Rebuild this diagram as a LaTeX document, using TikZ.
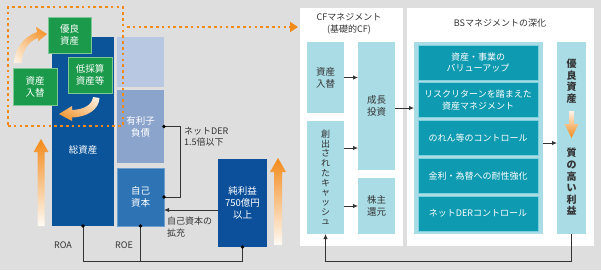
\documentclass[tikz,border=0pt]{standalone}
\usepackage{fontspec}
\setmainfont{Noto Sans CJK JP}
\usetikzlibrary{arrows.meta,calc,shadings}
\definecolor{bgg}{HTML}{DDDEDD}
\definecolor{dkb}{HTML}{0B5499}
\definecolor{ltb}{HTML}{B9C8E2}
\definecolor{mdb}{HTML}{8BA4CC}
\definecolor{eqb}{HTML}{2E74B5}
\definecolor{eqbd}{HTML}{6C9FD0}
\definecolor{nib}{HTML}{0C4F9A}
\definecolor{grn}{HTML}{1B9A4B}
\definecolor{grnb}{HTML}{7CC996}
\definecolor{cfb}{HTML}{AADCE5}
\definecolor{tl}{HTML}{0E9AB0}
\definecolor{tlb}{HTML}{7FD0DD}
\definecolor{org}{HTML}{F28A1A}
\definecolor{ln}{HTML}{333333}
\begin{document}
\begin{tikzpicture}[x=1pt,y=-1pt,
  rbox/.style 2 args={minimum width=#1,minimum height=#2,inner sep=0pt,outer sep=0pt,anchor=north west,align=center},
  wtxt/.style={text=white,font=\fontsize{9.5}{12}\selectfont},
  dtxt/.style={text=ln,font=\fontsize{9.5}{12}\selectfont},
  btxt/.style={text=white,font=\fontsize{9}{11.5}\selectfont},
  lbl/.style={text=ln,font=\fontsize{9}{11.5}\selectfont,inner sep=0pt,align=left},
  ttl/.style={text=ln,font=\fontsize{9}{11.5}\selectfont,inner sep=0pt,align=center},
  vtc/.style={text=ln,font=\fontsize{9}{9.7}\selectfont,inner sep=0pt,align=center},
  vtr/.style={text=ln,font=\fontsize{10}{11.6}\bfseries,inner sep=0pt,align=center},
  con/.style={draw=ln,line width=0.9pt,-{Latex[length=5pt,width=4.5pt]}},
  ln2/.style={draw=ln,line width=0.9pt},
  orgdot/.style={draw=org,line width=2.6pt,dash pattern=on 2.6pt off 3.2pt},
  dotc/.style={fill=black},
]
\fill[bgg] (0,0) rectangle (601,270);
% ---------- right panels ----------
\node[rbox={103}{238},fill=white] (cfp) at (300,8) {};
\node[rbox={187}{238},fill=white] (bsp) at (407,8) {};
\node[ttl] (cft) at (349,24) {CFマネジメント\\(基礎的CF)};
\node[ttl] (bst) at (500,23) {BSマネジメントの深化};
% CF boxes
\node[rbox={37}{71},fill=cfb,dtxt] (ca) at (307,42) {資産\\入替};
\node[rbox={37}{113},fill=cfb,vtc] (cc) at (307,121) {創\\出\\さ\\れ\\た\\キ\\ャ\\ッ\\シ\\ュ};
\node[rbox={37}{128},fill=cfb,dtxt] (gi) at (358,42) {成長\\投資};
\node[rbox={37}{56},fill=cfb,dtxt] (sr) at (358,178) {株主\\還元};
% BS boxes
\node[rbox={129}{192},fill=cfb] (bsc) at (414,42) {};
\node[rbox={120}{35},fill=tl,draw=tlb,line width=0.8pt,btxt] (b1) at (418,45) {資産・事業の\\バリューアップ};
\node[rbox={120}{35},fill=tl,draw=tlb,line width=0.8pt,btxt] (b2) at (418,82.75) {リスクリターンを踏まえた\\資産マネジメント};
\node[rbox={120}{35},fill=tl,draw=tlb,line width=0.8pt,btxt] (b3) at (418,120.5) {のれん等のコントロール};
\node[rbox={120}{35},fill=tl,draw=tlb,line width=0.8pt,btxt] (b4) at (418,158.25) {金利・為替への耐性強化};
\node[rbox={120}{35},fill=tl,draw=tlb,line width=0.8pt,btxt] (b5) at (418,196) {ネットDERコントロール};
% right column
\node[rbox={29}{192},fill=cfb] (rc) at (557,42) {};
\node[vtr] (rq1) at (571.5,81) {優\\良\\資\\産};
\shade[top color=org!10,bottom color=org] (569,111) -- (574,111) -- (574,124) -- (578.5,124) -- (571.5,138) -- (564.5,124) -- (569,124) -- cycle;
\node[vtr] (rq2) at (571.5,182) {質\\の\\高\\い\\利\\益};
% CF connectors
\draw[con] (ca.east) -- (ca.east -| gi.west);
\coordinate (y148) at (0,148);
\draw[con] (cc.east |- y148) -- (gi.west |- y148);
\draw[con] (cc.east |- sr.west) -- (sr.west);
\coordinate (y108) at (0,108);
\draw[con] (gi.east |- y108) -- (bsc.west |- y108);
\coordinate (y143) at (0,143);
\draw[con] (bsc.east |- y143) -- (rc.west |- y143);
\coordinate (yb) at (0,261);
\draw[con] (rc.south) -- (rc.south |- yb) -- (cc.south |- yb) -- (cc.south);
% ---------- left part ----------
\node[rbox={62}{189},fill=dkb] (tot) at (52,37) {};
\node[wtxt] (tott) at (83,150) {総資産};
\node[rbox={47}{50},fill=ltb] (emp) at (117,37) {};
\node[rbox={47}{73},fill=mdb,wtxt] (debt) at (117,90) {有利子\\負債};
\node[rbox={47}{58},fill=eqb,draw=eqbd,line width=0.8pt,wtxt] (eq) at (117,168) {自己\\資本};
\node[rbox={49}{88},fill=nib,wtxt] (ni) at (218,159) {純利益\\750億円\\以上};
% green boxes
\node[rbox={43}{36},fill=grn,draw=grnb,line width=0.8pt,wtxt] (g1) at (48,17) {優良\\資産};
\node[rbox={44}{36},fill=grn,draw=grnb,line width=0.8pt,wtxt] (g2) at (68,57) {低採算\\資産等};
\node[rbox={44}{37},fill=grn,draw=grnb,line width=0.8pt,wtxt] (g3) at (13,68) {資産\\入替};
% curved arrows
\shade[upper right=org,lower left=org!8,upper left=org!55,lower right=org!55]
  (14,63) .. controls (15,47) and (24,37) .. (37,32) -- (36,27) -- (47,34) -- (38,41.5) -- (38,38)
  .. controls (29,41) and (23,49) .. (21.5,63) -- cycle;
\shade[upper right=org!8,lower left=org,upper left=org!55,lower right=org!55]
  (93,97) .. controls (92,105) and (84,109.5) .. (72,110) -- (72,106) -- (59,114) -- (72,121) -- (72,117.5)
  .. controls (88,117) and (99,109) .. (99.5,98) -- cycle;
% big up arrows
\shade[top color=org,bottom color=org!4] (37.5,226) -- (37.5,152) -- (33.5,152) -- (41,139) -- (48.5,152) -- (44.5,152) -- (44.5,226) -- cycle;
\shade[top color=org,bottom color=org!4] (274,245) -- (274,172) -- (270,172) -- (278,158) -- (286,172) -- (282,172) -- (282,245) -- cycle;
% left connectors
\draw[ln2] (debt.east) -- ++(16,0) |- (eq.east);
\fill[dotc] (debt.east) circle (1.8);
\fill[dotc] (eq.east) circle (1.8);
\node[lbl,anchor=west] (derl) at (184,137) {ネットDER\\1.5倍以下};
\coordinate (y210) at (0,210);
\draw[con] (ni.west |- y210) -- (eq.east |- y210);
\node[lbl,anchor=west] (eql) at (167,227) {自己資本の\\拡充};
\coordinate (yl) at (0,261);
\draw[ln2] (tot.south) -- (tot.south |- yl) -- (ni.south |- yl) -- (ni.south);
\draw[ln2] (eq.south) -- (eq.south |- yl);
\fill[dotc] (tot.south) circle (1.8);
\fill[dotc] (eq.south) circle (1.8);
\fill[dotc] (ni.south) circle (1.8);
\node[lbl] (roa) at (63,245) {ROA};
\node[lbl] (roe) at (124,245) {ROE};
% dotted orange frame
\node[rbox={115}{119},orgdot] (dbox) at (8,7) {};
\coordinate (y27) at (0,27);
\draw[orgdot,shorten >=2pt,-{Triangle[length=8pt,width=10pt,fill=org]}] ($(dbox.east |- y27)+(4,0)$) -- (cfp.west |- y27);
\end{tikzpicture}
\end{document}
